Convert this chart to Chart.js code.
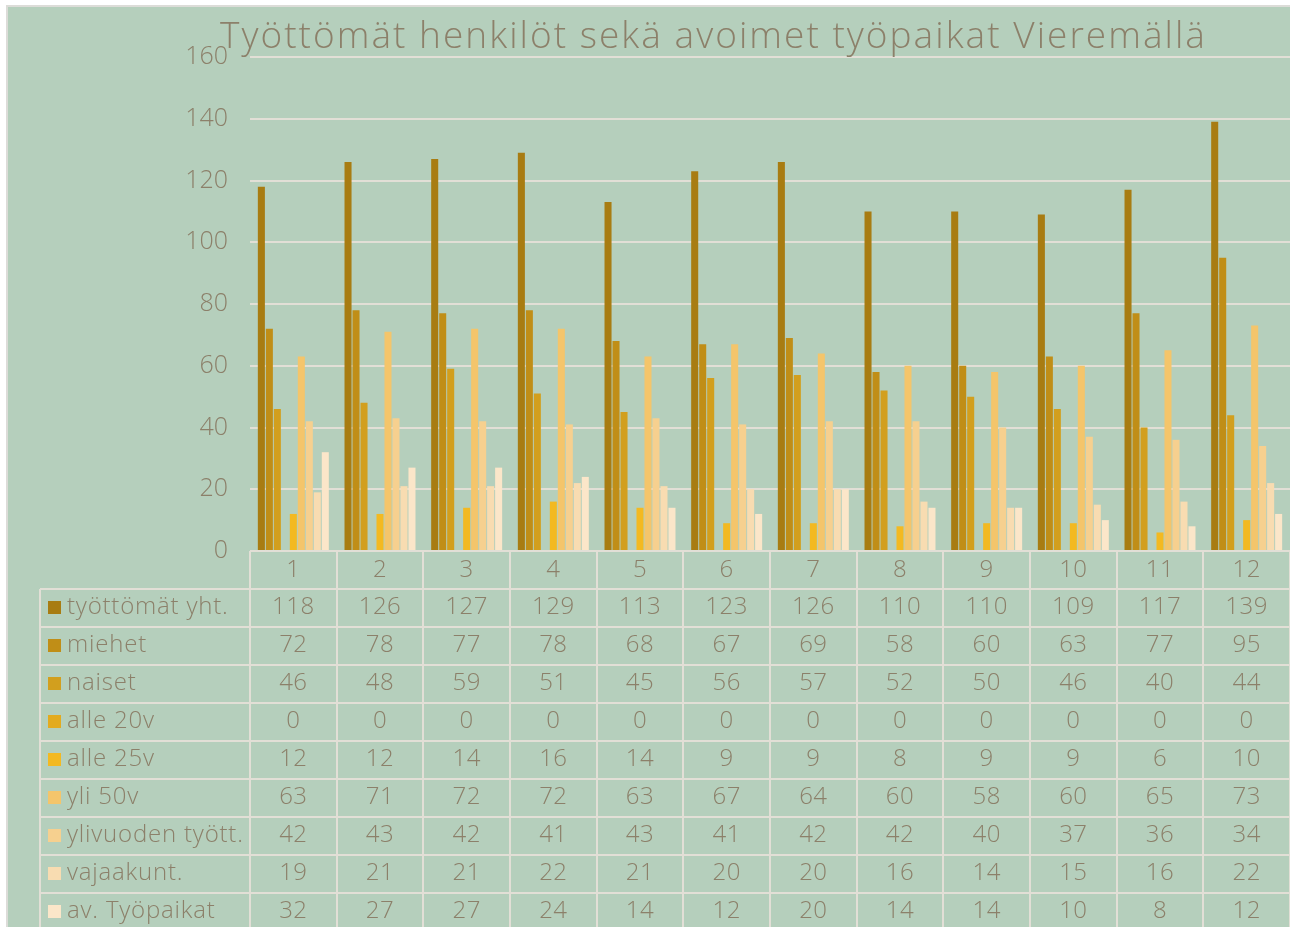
<!DOCTYPE html>
<html lang="fi">
<head>
    <meta charset="UTF-8">
    <title>Työttömät henkilöt sekä avoimet työpaikat Vieremällä</title>
    <script src="https://cdn.jsdelivr.net/npm/chart.js"></script>
    <style>
        body { margin: 0; background: #fff; }
        canvas { display: block; }
    </style>
</head>
<body>
    <canvas id="chart" width="1290" height="927"></canvas>

    <script>
        const months = ['1', '2', '3', '4', '5', '6', '7', '8', '9', '10', '11', '12'];
        const seriesNames = ['työttömät yht.', 'miehet', 'naiset', 'alle 20v', 'alle 25v',
            'yli 50v', 'ylivuoden tyött.', 'vajaakunt.', 'av. Työpaikat'];
        const tyottomat = [118, 126, 127, 129, 113, 123, 126, 110, 110, 109, 117, 139];
        const miehet = [72, 78, 77, 78, 68, 67, 69, 58, 60, 63, 77, 95];
        const naiset = [46, 48, 59, 51, 45, 56, 57, 52, 50, 46, 40, 44];
        const alle20 = [0, 0, 0, 0, 0, 0, 0, 0, 0, 0, 0, 0];
        const alle25 = [12, 12, 14, 16, 14, 9, 9, 8, 9, 9, 6, 10];
        const yli50 = [63, 71, 72, 72, 63, 67, 64, 60, 58, 60, 65, 73];
        const ylivuoden = [42, 43, 42, 41, 43, 41, 42, 42, 40, 37, 36, 34];
        const vajaakunt = [19, 21, 21, 22, 21, 20, 20, 16, 14, 15, 16, 22];
        const avTyopaikat = [32, 27, 27, 24, 14, 12, 20, 14, 14, 10, 8, 12];
        const yTicks = [0, 20, 40, 60, 80, 100, 120, 140, 160];

        const seriesData = [tyottomat, miehet, naiset, alle20, alle25, yli50, ylivuoden, vajaakunt, avTyopaikat];
        const colors = ['#a87c12', '#c08e17', '#d29f1e', '#e3ab1f', '#f3b921',
            '#f4c56b', '#f6d08f', '#f8dcb1', '#fbe6c9'];

        const textColor = '#8c806a';
        const lineColor = '#e2dfd6';
        const bgColor = '#b5cfbc';
        const fontFamily = '"Open Sans", "Liberation Sans", sans-serif';
        const rowH = 38;

        // background + outer border of the chart object
        const backgroundPlugin = {
            id: 'bg',
            beforeDraw(chart) {
                const c = chart.ctx;
                c.save();
                c.fillStyle = '#dcdcd8';
                c.fillRect(6, 5, chart.width - 6, chart.height - 5);
                c.fillStyle = bgColor;
                c.fillRect(8, 7, chart.width - 8, chart.height - 7);
                c.restore();
            }
        };

        // title, drawn by hand so it can sit off-centre like the original
        const titlePlugin = {
            id: 'titleText',
            afterDraw(chart) {
                const c = chart.ctx;
                const text = 'Työttömät henkilöt sekä avoimet työpaikat Vieremällä';
                c.save();
                c.font = '300 37px ' + fontFamily;
                const w = c.measureText(text).width;
                const spacing = (985 - w) / (text.length - 1);
                c.letterSpacing = spacing.toFixed(2) + 'px';
                c.fillStyle = textColor;
                c.textAlign = 'left';
                c.textBaseline = 'alphabetic';
                c.fillText(text, 220, 48);
                c.restore();
            }
        };

        // data table under the plot, aligned to the x scale
        const tablePlugin = {
            id: 'dataTable',
            afterDraw(chart) {
                const c = chart.ctx;
                const x = chart.scales.x;
                const area = chart.chartArea;
                const step = (area.right - area.left) / months.length;
                const top = area.bottom;
                const tableLeft = 40;
                const bottom = chart.height + 10;

                c.save();
                c.strokeStyle = lineColor;
                c.lineWidth = 2;
                c.beginPath();
                c.moveTo(area.left, top);
                c.lineTo(area.right, top);
                for (let r = 1; r <= seriesNames.length + 1; r++) {
                    const y = top + r * rowH;
                    c.moveTo(tableLeft, y);
                    c.lineTo(area.right, y);
                }
                c.moveTo(tableLeft, top + rowH);
                c.lineTo(tableLeft, bottom);
                for (let i = 0; i <= months.length; i++) {
                    const xx = Math.round(area.left + i * step);
                    c.moveTo(xx, top);
                    c.lineTo(xx, bottom);
                }
                c.stroke();

                c.font = '300 24px ' + fontFamily;
                c.fillStyle = textColor;
                c.textBaseline = 'middle';
                c.textAlign = 'center';
                c.letterSpacing = '0.5px';
                months.forEach((m, i) => {
                    c.fillText(m, x.getPixelForValue(i), top + rowH / 2);
                });
                seriesNames.forEach((name, s) => {
                    const cy = top + rowH * (s + 1) + rowH / 2 - 1;
                    c.fillStyle = colors[s];
                    c.fillRect(48, cy - 6, 13, 13);
                    c.fillStyle = textColor;
                    c.textAlign = 'left';
                    c.letterSpacing = '0.8px';
                    c.fillText(name, 67, cy);
                    c.textAlign = 'center';
                    c.letterSpacing = '0.5px';
                    seriesData[s].forEach((v, i) => {
                        c.fillText(String(v), x.getPixelForValue(i), cy);
                    });
                });
                c.restore();
            }
        };

        const ctx = document.getElementById('chart').getContext('2d');
        const chart = new Chart(ctx, {
            type: 'bar',
            data: {
                labels: months,
                datasets: seriesNames.map((name, s) => ({
                    label: name,
                    data: seriesData[s],
                    backgroundColor: colors[s],
                    categoryPercentage: 0.83,
                    barPercentage: 0.88
                }))
            },
            options: {
                responsive: false,
                animation: false,
                devicePixelRatio: 1,
                layout: {
                    padding: { top: 57, right: 0, bottom: 376, left: 0 }
                },
                plugins: {
                    legend: { display: false },
                    title: { display: false },
                    tooltip: { enabled: false }
                },
                scales: {
                    x: { display: false },
                    y: {
                        min: 0,
                        max: 160,
                        afterBuildTicks(scale) {
                            scale.ticks = yTicks.map(v => ({ value: v }));
                        },
                        afterFit(scale) {
                            scale.width = 250;
                        },
                        border: { display: false },
                        grid: { color: lineColor, lineWidth: 2, drawTicks: false },
                        ticks: {
                            color: textColor,
                            padding: 22,
                            font: { family: fontFamily, size: 25, weight: '300' }
                        }
                    }
                }
            },
            plugins: [backgroundPlugin, titlePlugin, tablePlugin]
        });
    </script>
</body>
</html>
